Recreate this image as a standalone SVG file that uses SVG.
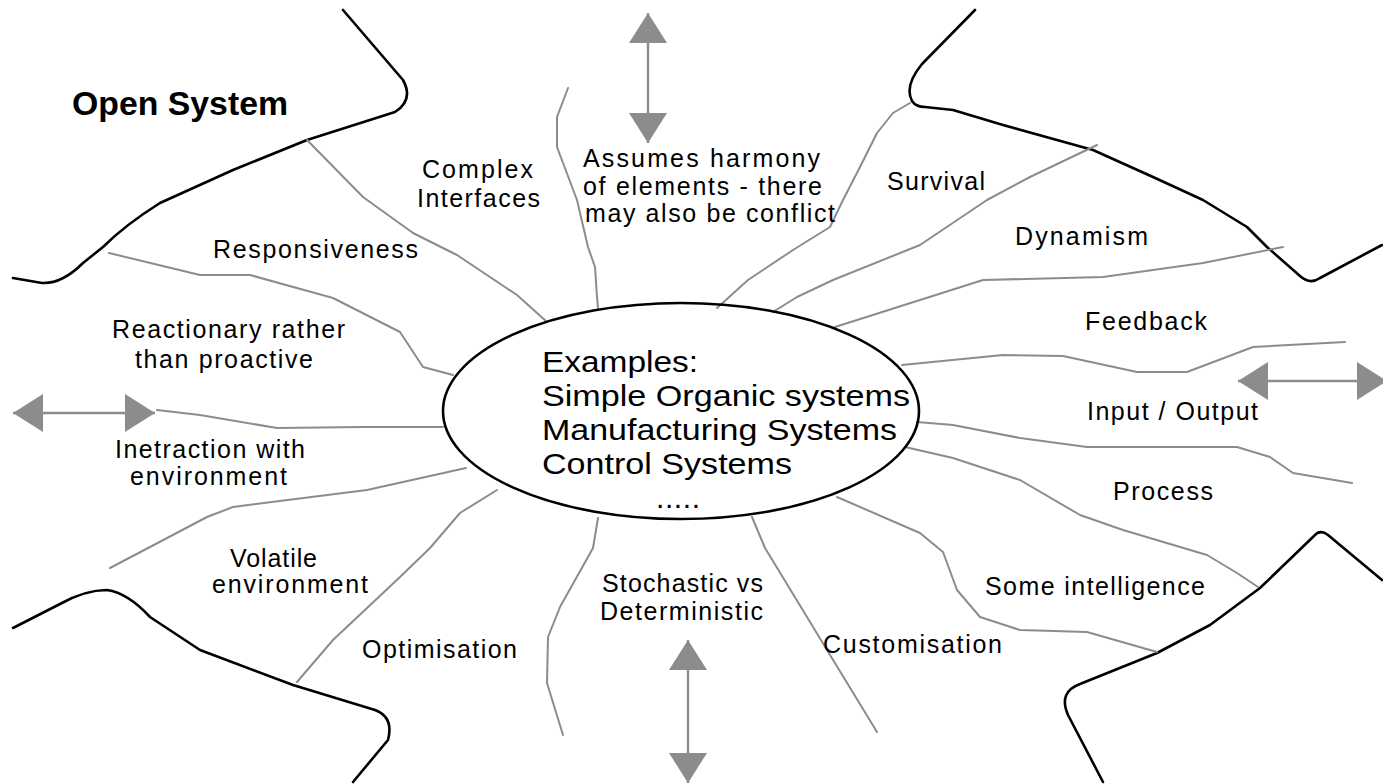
<svg xmlns="http://www.w3.org/2000/svg" width="1383" height="784" viewBox="0 0 1383 784">
  <style>
    .edge { fill: none; stroke: #000; stroke-width: 2.6; stroke-linejoin: round; stroke-linecap: round; }
    .link { fill: none; stroke: #8c8c8c; stroke-width: 2; stroke-linejoin: round; stroke-linecap: round; }
    .flow { fill: none; stroke: #8c8c8c; stroke-width: 2.4; marker-start: url(#head); marker-end: url(#head); }
    .lbl { font-family: "Liberation Sans", Arial, sans-serif; font-size: 25px; fill: #000; }
    .big { font-family: "Liberation Sans", Arial, sans-serif; font-size: 30px; fill: #000; }
    .title { font-family: "Liberation Sans", Arial, sans-serif; font-size: 34px; font-weight: bold; fill: #000; }
  </style>
  <defs>
    <marker id="head" markerUnits="userSpaceOnUse" markerWidth="30" markerHeight="38" refX="30" refY="19" orient="auto-start-reverse">
      <path d="M0,0 L30,19 L0,38 Z" fill="#8c8c8c"/>
    </marker>
  </defs>
  <rect width="1383" height="784" fill="#fff"/>

  <!-- system boundary: four wavy corner curves -->
  <g id="boundary">
    <path class="edge" d="M343,10 L403,80 Q414,100 395,112 L307,140 L233,170 L160,203 Q125,225 103,247 L83,263 Q62,284 42,283 L13,278"/>
    <path class="edge" d="M975,10 L922,64 Q904,86 912,101 Q916,107 925,107 L953,110 L1003,125 L1093,150 L1153,177 L1203,200 L1247,227 L1267,247 L1300,276 Q1310,285 1320,278 L1382,245"/>
    <path class="edge" d="M13,628 L60,604 Q85,590 107,590 Q128,593 150,617 L200,650 L293,685 L375,710 Q394,717 388,740 L353,782"/>
    <path class="edge" d="M1103,782 L1068,715 Q1058,692 1080,684 L1157,653 L1210,625 L1260,588 L1314,536 Q1320,529 1328,535 L1382,580"/>
  </g>

  <!-- connectors from the central node -->
  <g id="connectors">
    <polyline class="link" points="307,140 363,197 413,233 457,255 517,295 547,322"/>
    <polyline class="link" points="109,253 200,275 250,275 333,298 400,332 423,367 453,375"/>
    <polyline class="link" points="157,410 200,415 277,428 363,427 443,427"/>
    <polyline class="link" points="466,468 367,490 233,507 207,517 150,547 110,568"/>
    <polyline class="link" points="497,490 460,513 430,548 400,577 333,640 297,682"/>
    <polyline class="link" points="598,518 593,548 560,607 548,637 547,683 563,735"/>
    <polyline class="link" points="752,517 765,548 807,617 827,650 877,732"/>
    <polyline class="link" points="837,497 920,533 943,552 957,590 980,617 1020,630 1087,632 1157,652"/>
    <polyline class="link" points="905,447 953,458 1020,480 1080,515 1123,530 1207,555 1237,573 1258,587"/>
    <polyline class="link" points="917,422 953,425 1020,438 1087,447 1237,447 1270,457 1293,473 1352,483"/>
    <polyline class="link" points="902,365 1003,355 1063,356 1137,372 1187,372 1253,347 1345,342"/>
    <polyline class="link" points="835,327 920,300 983,280 1103,277 1203,263 1283,247"/>
    <polyline class="link" points="773,312 797,297 833,280 920,245 987,200 1030,177 1097,145"/>
    <polyline class="link" points="717,308 748,280 793,250 830,227 843,200 860,167 877,133 893,113 910,103"/>
    <polyline class="link" points="598,308 597,297 595,267 588,247 577,200 557,147 557,117 568,88"/>
    <!-- double-headed exchange arrows -->
    <line class="flow" x1="648" y1="13" x2="648" y2="143"/>
    <line class="flow" x1="688" y1="640" x2="688" y2="783"/>
    <line class="flow" x1="13" y1="413" x2="155" y2="413"/>
    <line class="flow" x1="1238" y1="381" x2="1387" y2="381"/>
  </g>

  <!-- central node -->
  <g id="examples">
    <ellipse cx="681" cy="411" rx="238" ry="108" fill="none" stroke="#000" stroke-width="2.6"/>
    <text class="big" x="542" y="372" textLength="156" lengthAdjust="spacingAndGlyphs">Examples:</text>
    <text class="big" x="542" y="406" textLength="368" lengthAdjust="spacingAndGlyphs">Simple Organic systems</text>
    <text class="big" x="542" y="440" textLength="355" lengthAdjust="spacingAndGlyphs">Manufacturing Systems</text>
    <text class="big" x="542" y="474" textLength="250" lengthAdjust="spacingAndGlyphs">Control Systems</text>
    <text class="big" x="656" y="508" textLength="44">.....</text>
  </g>

  <g id="title"><text class="title" x="72" y="115" textLength="216" lengthAdjust="spacingAndGlyphs">Open System</text></g>

  <g id="complex-interfaces">
    <text class="lbl" x="422" y="178" textLength="111">Complex</text>
    <text class="lbl" x="417" y="207" textLength="123">Interfaces</text>
  </g>
  <g id="harmony">
    <text class="lbl" x="583" y="167" textLength="237">Assumes harmony</text>
    <text class="lbl" x="583" y="195" textLength="239">of elements - there</text>
    <text class="lbl" x="585" y="222" textLength="250">may also be conflict</text>
  </g>
  <g id="survival"><text class="lbl" x="887" y="190" textLength="98">Survival</text></g>
  <g id="dynamism"><text class="lbl" x="1015" y="245" textLength="133">Dynamism</text></g>
  <g id="feedback"><text class="lbl" x="1085" y="330" textLength="122">Feedback</text></g>
  <g id="input-output"><text class="lbl" x="1087" y="420" textLength="171">Input / Output</text></g>
  <g id="process"><text class="lbl" x="1113" y="500" textLength="100">Process</text></g>
  <g id="intelligence"><text class="lbl" x="985" y="595" textLength="220">Some intelligence</text></g>
  <g id="customisation"><text class="lbl" x="823" y="653" textLength="179">Customisation</text></g>
  <g id="stochastic">
    <text class="lbl" x="602" y="592" textLength="161">Stochastic vs</text>
    <text class="lbl" x="600" y="620" textLength="163">Deterministic</text>
  </g>
  <g id="optimisation"><text class="lbl" x="362" y="658" textLength="155">Optimisation</text></g>
  <g id="volatile">
    <text class="lbl" x="230" y="567" textLength="87">Volatile</text>
    <text class="lbl" x="212" y="593" textLength="156">environment</text>
  </g>
  <g id="reactionary">
    <text class="lbl" x="112" y="338" textLength="233">Reactionary rather</text>
    <text class="lbl" x="135" y="368" textLength="178">than proactive</text>
  </g>
  <g id="interaction">
    <text class="lbl" x="115" y="458" textLength="190">Inetraction with</text>
    <text class="lbl" x="130" y="485" textLength="157">environment</text>
  </g>
  <g id="responsiveness"><text class="lbl" x="213" y="258" textLength="205">Responsiveness</text></g>
</svg>
